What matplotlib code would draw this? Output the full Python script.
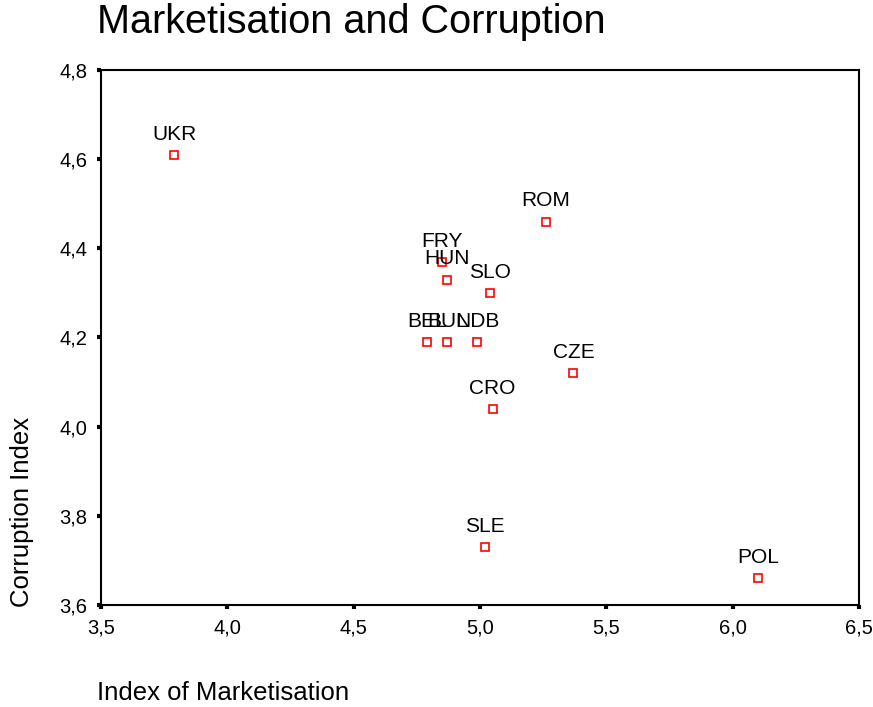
import matplotlib
matplotlib.use("Agg")
import matplotlib.pyplot as plt

# datos
paises = ["UKR", "ROM", "FRY", "HUN", "SLO", "BEL", "BUL", "NDB", "CZE", "CRO", "SLE", "POL"]
mercado = [3.79, 5.26, 4.85, 4.87, 5.04, 4.79, 4.87, 4.99, 5.37, 5.05, 5.02, 6.10]
corrupcion = [4.61, 4.46, 4.37, 4.33, 4.30, 4.19, 4.19, 4.19, 4.12, 4.04, 3.73, 3.66]

xticks = [3.5, 4.0, 4.5, 5.0, 5.5, 6.0, 6.5]
yticks = [3.6, 3.8, 4.0, 4.2, 4.4, 4.6, 4.8]

plt.rcParams['font.family'] = ['Liberation Sans', 'DejaVu Sans']

fig = plt.figure(figsize=(8.73, 7.07), dpi=100)
ax = fig.add_axes([101 / 873, 1 - 605 / 707, 758 / 873, 535 / 707])

ax.plot(mercado, corrupcion, linestyle='none', marker='s', markersize=6,
        markerfacecolor='white', markeredgecolor='red', markeredgewidth=1.2)

for nombre, x, y in zip(paises, mercado, corrupcion):
    ax.annotate(nombre, (x, y), xytext=(0, 8), textcoords='offset points',
                ha='center', va='bottom', fontsize=15, color='black')

ax.set_xlim(3.5, 6.5)
ax.set_ylim(3.6, 4.8)
ax.set_xticks(xticks)
ax.set_yticks(yticks)
ax.set_xticklabels([f"{v:.1f}".replace('.', ',') for v in xticks])
ax.set_yticklabels([f"{v:.1f}".replace('.', ',') for v in yticks])
ax.tick_params(direction='out', length=3, width=3, labelsize=14.5, pad=7)

for lado in ax.spines.values():
    lado.set_linewidth(1.5)
    lado.set_color('black')

fig.text(97 / 873, 1 - 22 / 707, "Marketisation and Corruption",
         fontsize=28.5, ha='left', va='center')
fig.text(97 / 873, 1 - 693 / 707, "Index of Marketisation",
         fontsize=18.5, ha='left', va='center')
fig.text(22 / 873, 1 - 512 / 707, "Corruption Index",
         fontsize=18.5, ha='center', va='center', rotation=90)

fig.savefig("out.png", dpi=100)
plt.close()
